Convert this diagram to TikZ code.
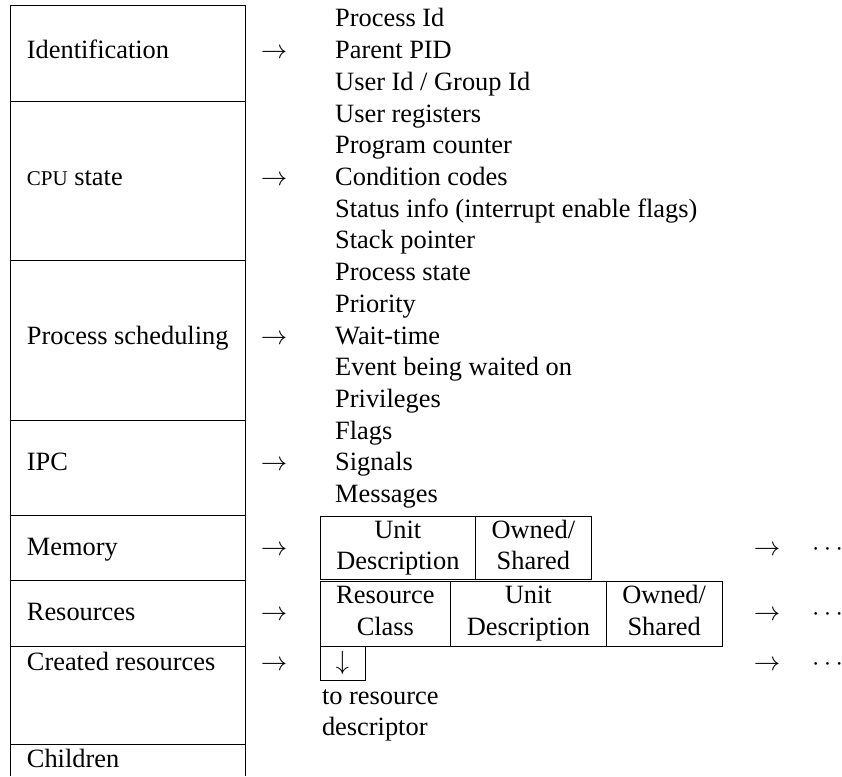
\RequirePackage{fix-cm}
\documentclass[tikz,border=0pt]{standalone}
\usepackage{fontspec}
\setmainfont{Liberation Serif}
\usepackage{tikz}
\usetikzlibrary{positioning}
\tikzstyle{rowlabel} = [anchor=base west,inner sep=0pt]
\tikzstyle{sym}      = [anchor=base,inner sep=0pt]
\tikzstyle{rule}     = [line width=0.9pt]
\tikzstyle{cell}     = [draw,line width=0.9pt,inner sep=0pt,outer sep=0pt,align=center,anchor=north west]
\newcommand{\cpusc}{{\fontsize{21}{21}\selectfont CPU}}

\begin{document}
\begin{tikzpicture}[x=1pt,y=-1pt,font=\fontsize{26.4}{31.7}\selectfont]
  \useasboundingbox (0,0) rectangle (842,776);

  %the descriptor frame on the left
  \draw[rule] (10.7,776) -- (10.7,5) -- (245.5,5) -- (245.5,776);
  \foreach \y in {101,260.7,420,515,580.7,646.5,744.3}{
    \draw[rule] (10.7,\y) -- (245.5,\y);
  }

  %row labels
  \node[rowlabel] (ident)   at (26.7,58.7)  {Identification};
  \node[rowlabel] (cpu)     at (26.7,185.5) {\cpusc{} state};
  \node[rowlabel] (sched)   at (26.7,344)   {Process scheduling};
  \node[rowlabel] (ipc)     at (26.7,470.8) {IPC};
  \node[rowlabel] (mem)     at (26.7,555.5) {Memory};
  \node[rowlabel] (res)     at (26.7,620.5) {Resources};
  \node[rowlabel] (crt)     at (26.7,670.8) {Created resources};
  \node[rowlabel] (child)   at (26.7,767.5) {Children};

  %arrows next to the frame
  \foreach \row/\y in {ident/58.7,cpu/185.5,sched/344,ipc/470.8,mem/555.5,res/620.5,crt/670.8}{
    \node[sym] (arr\row) at (274,\y) {$\rightarrow$};
  }

  %fields of the first four rows
  \foreach \txt[count=\i] in {Process Id,Parent PID,User Id / Group Id,User registers,
      Program counter,Condition codes,Status info (interrupt enable flags),Stack pointer,
      Process state,Priority,Wait-time,Event being waited on,Privileges,Flags,Signals,Messages}{
    \node[rowlabel] (f\i) at (335,{27+31.7*(\i-1)}) {\txt};
  }

  %memory table
  \node[cell,minimum width=155.7,minimum height=63] (memunit) at (320,516) {\strut Unit\\\strut Description};
  \node[cell,minimum width=115.3,minimum height=63,right=0pt of memunit] (memowned) {\strut Owned/\\\strut Shared};

  %resources table
  \node[cell,minimum width=130.7,minimum height=65] (resclass) at (320,581) {\strut Resource\\\strut Class};
  \node[cell,minimum width=155.3,minimum height=65,right=0pt of resclass] (resunit) {\strut Unit\\\strut Description};
  \node[cell,minimum width=116.3,minimum height=65,right=0pt of resunit] (resowned) {\strut Owned/\\\strut Shared};

  %created resources
  \node[cell,minimum width=45,minimum height=34] (crtptr) at (resclass.south west) {$\downarrow$};
  \node[rowlabel] (crtnote1) at (321.8,704)   {to resource};
  \node[rowlabel] (crtnote2) at (321.8,735.7) {descriptor};

  %continuation on the right
  \foreach \row/\y in {mem/555.5,res/620.5,crt/670.8}{
    \node[sym] (next\row) at (767,\y) {$\rightarrow$};
    \node[rowlabel] (dots\row) at (812,\y) {$\cdots$};
  }
\end{tikzpicture}
\end{document}
